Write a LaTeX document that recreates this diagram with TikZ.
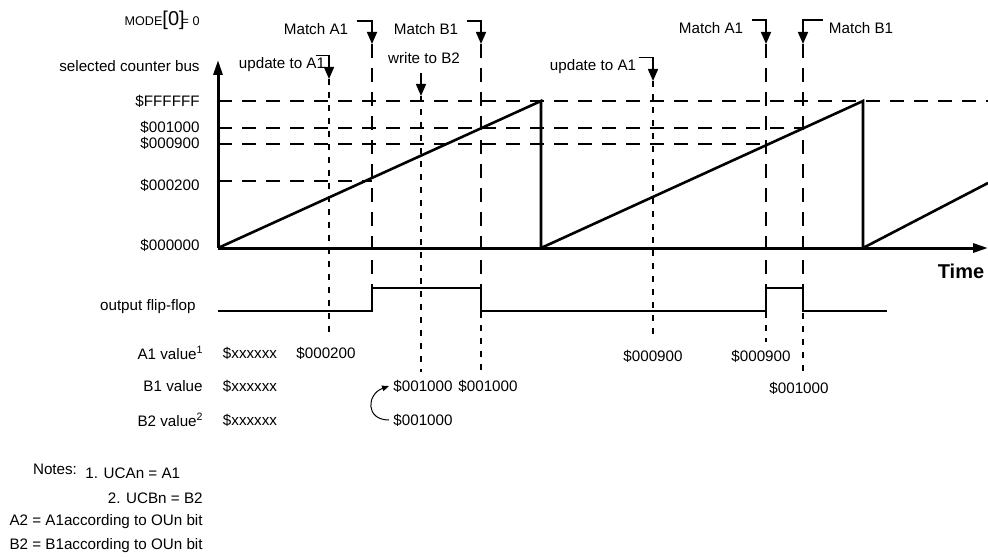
\documentclass[tikz,border=0pt]{standalone}
\usepackage{fontspec}
\setmainfont{Liberation Sans}
\usetikzlibrary{arrows.meta,positioning}

\begin{document}
\begin{tikzpicture}[
    x=0.5pt, y=-0.5pt,
    every node/.style={font=\fontsize{7.6}{9}\selectfont, inner sep=1pt},
    axis/.style={line width=1.5pt, -{Triangle[length=7.5pt,width=4.5pt]}},
    wave/.style={line width=1.3pt},
    level/.style={line width=1pt, dash pattern=on 7pt off 5pt},
    match/.style={line width=1pt, dash pattern=on 7pt off 5pt},
    update/.style={line width=1pt, dash pattern=on 3pt off 3.5pt},
    hook/.style={line width=0.8pt, -{Triangle[length=6pt,width=5pt]}},
    lbl/.style={anchor=east}
]
\useasboundingbox (0,0) rectangle (988,556);

% Axes
\coordinate (origin) at (218,248);
\coordinate (ytop) at (218,60);
\coordinate (xend) at (988,248);
\draw[axis] (origin) -- (ytop);
\draw[axis] (origin) -- (xend);
\node[font=\fontsize{10}{12}\selectfont\bfseries] (time) at (961,271) {Time};

% Counter ramps
\coordinate (peak1) at (541,101);
\coordinate (drop1) at (541,248);
\coordinate (peak2) at (863,101);
\coordinate (drop2) at (863,248);
\coordinate (ramp3) at (988,183);
\draw[wave] (origin) -- (peak1) -- (drop1) -- (peak2) -- (drop2) -- (ramp3);

% Compare levels
\node[lbl] (lvlFF) at (202,101) {\$FFFFFF};
\node[lbl] (lvl1000) at (202,127) {\$001000};
\node[lbl] (lvl900) at (202,143) {\$000900};
\node[lbl] (lvl200) at (202,185) {\$000200};
\node[lbl] (lvl0) at (202,245) {\$000000};
\draw[level] (218,101) -- (988,101);
\draw[level] (218,128) -- (803,128);
\draw[level] (218,144) -- (766,144);
\draw[level] (218,181) -- (372,181);

% Events
\coordinate (uA1aTip) at (329,79);  \coordinate (uA1aEnd) at (329,336);
\coordinate (mA1aTip) at (372,44);  \coordinate (mA1aEnd) at (372,288);
\coordinate (wB2Top) at (421,73);   \coordinate (wB2Tip) at (421,96);
\coordinate (wB2End) at (421,372);
\coordinate (mB1aTip) at (481,44);  \coordinate (mB1aEnd) at (481,288);
\coordinate (mB1aLow) at (481,312); \coordinate (mB1aVal) at (481,372);
\coordinate (uA1bTip) at (653,81);  \coordinate (uA1bEnd) at (653,341);
\coordinate (mA1bTip) at (766,44);  \coordinate (mA1bEnd) at (766,288);
\coordinate (mA1bLow) at (766,312); \coordinate (mA1bVal) at (766,342);
\coordinate (mB1bTip) at (803,44);  \coordinate (mB1bEnd) at (803,288);
\coordinate (mB1bLow) at (803,313); \coordinate (mB1bVal) at (803,373);

\node (mA1a) at (316,29) {Match A1};
\node (mB1a) at (426,29) {Match B1};
\node (uA1a) at (282,65) {update to A1};
\node (wB2) at (424,58) {write to B2};
\node (uA1b) at (593,67) {update to A1};
\node (mA1b) at (711,28) {Match A1};
\node (mB1b) at (861,28) {Match B1};

\draw[hook] ([xshift=3pt]mA1a.north east) -| (mA1aTip);
\draw[hook] ([xshift=3pt]mB1a.north east) -| (mB1aTip);
\draw[hook] ([xshift=-6pt]uA1a.north east) -| (uA1aTip);
\draw[hook] (wB2Top) -- (wB2Tip);
\draw[hook] (uA1b.north east) -| (uA1bTip);
\draw[hook] ([xshift=3pt]mA1b.north east) -| (mA1bTip);
\draw[hook] ([xshift=-2pt]mB1b.north west) -| (mB1bTip);

\draw[update] (uA1aTip) -- (uA1aEnd);
\draw[match] (mA1aTip) -- (mA1aEnd);
\draw[update] (wB2Tip) -- (wB2End);
\draw[match] (mB1aTip) -- (mB1aEnd);
\draw[update] (mB1aLow) -- (mB1aVal);
\draw[update] (uA1bTip) -- (uA1bEnd);
\draw[match] (mA1bTip) -- (mA1bEnd);
\draw[update] (mA1bLow) -- (mA1bVal);
\draw[match] (mB1bTip) -- (mB1bEnd);
\draw[update] (mB1bLow) -- (mB1bVal);

% Output flip-flop
\draw[wave] (218,311) -- (mA1aEnd |- 0,311) -- (mA1aEnd) -- (mB1aEnd)
    -- (mB1aEnd |- 0,311) -- (mA1bEnd |- 0,311) -- (mA1bEnd) -- (mB1bEnd)
    -- (mB1bEnd |- 0,311) -- (887,311);

% Left labels
\node[lbl] (mode) at (202,20) {{\fontsize{6.3}{8}\selectfont MODE}{\fontsize{10}{11}\selectfont[0]}\kern-1.5pt{\fontsize{6.3}{8}\selectfont= 0}};
\node[lbl] (bus) at (202,66) {selected counter bus};
\node[lbl] (ffl) at (198,307) {output flip-flop};
\node[lbl] (a1l) at (206,353) {A1 value\textsuperscript{1}};
\node[lbl] (b1l) at (205,386) {B1 value};
\node[lbl] (b2l) at (206,420) {B2 value\textsuperscript{2}};

% Register values
\node (a1v0) at (250,353) {\$xxxxxx};
\node (b1v0) at (250,386) {\$xxxxxx};
\node (b2v0) at (250,420) {\$xxxxxx};
\node (a1v1) at (326,353) {\$000200};
\node (b1v1) at (423,386) {\$001000};
\node (b1v2) at (488,386) {\$001000};
\node (b2v1) at (423,420) {\$001000};
\node (a1v2) at (653,356) {\$000900};
\node (a1v3) at (761,356) {\$000900};
\node (b1v3) at (799,388) {\$001000};
\draw[line width=0.5pt, -{Triangle[length=3.5pt,width=2.8pt]}]
    ([xshift=-1pt]b2v1.west) to[out=180, in=200, looseness=1.8] ([xshift=-1pt]b1v1.west);

% Notes
\node (notes) at (55,469) {Notes:};
\node[anchor=west] (note1) at (83,473) {1. UCAn = A1};
\node[lbl] (note2) at (205,498) {2. UCBn = B2};
\node[below=3pt of note2.south east, anchor=north east] (note3) {A2 = A1according to OUn bit};
\node[below=2.5pt of note3.south east, anchor=north east] (note4) {B2 = B1according to OUn bit};

\end{tikzpicture}
\end{document}
